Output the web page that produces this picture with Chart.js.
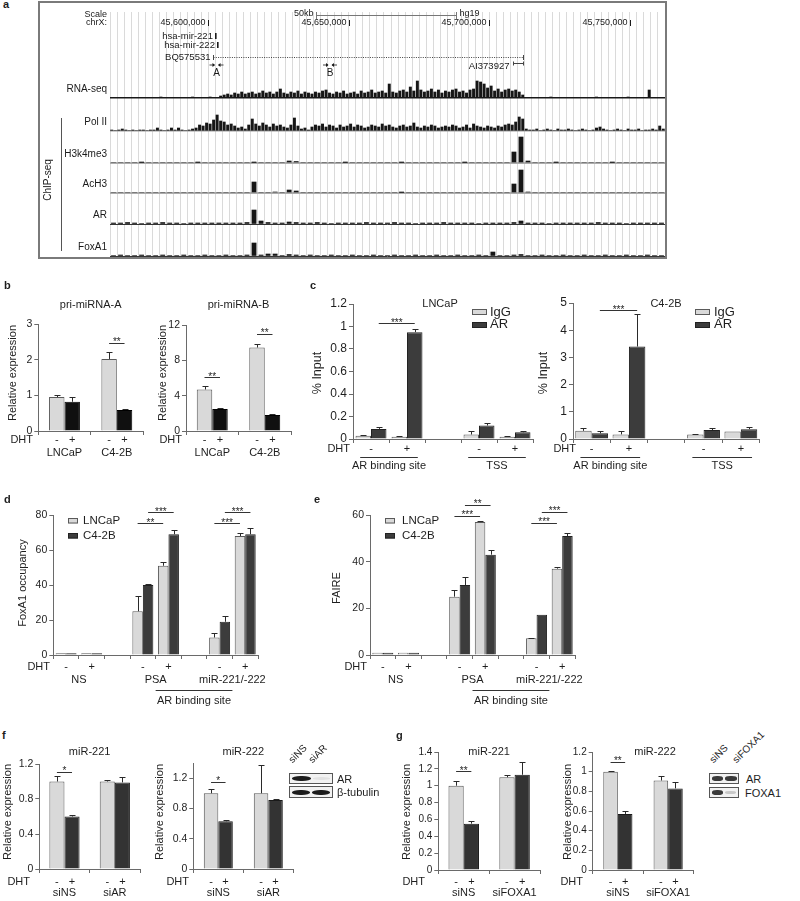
<!DOCTYPE html>
<html>
<head>
<meta charset="utf-8">
<title>AR / FoxA1 regulation of miR-221/-222</title>
<script src="https://cdn.jsdelivr.net/npm/chart.js@4.4.1/dist/chart.umd.min.js"></script>
<style>
  html, body { margin: 0; padding: 0; background: #fff; }
  #fig { position: relative; width: 800px; height: 901px; overflow: hidden;
         font-family: 'Liberation Sans', Arial, Helvetica, sans-serif; color: #1e1e1e; }
  #fig canvas { position: absolute; }
  .txt { position: absolute; white-space: nowrap; line-height: 1; }
  .letter { font-weight: bold; font-size: 11px; }
  .blot { position: absolute; box-sizing: border-box; border: 1px solid #555; background: #f2f2f2; }
  .band { position: absolute; border-radius: 45%; filter: blur(0.6px); }
</style>
</head>
<body>
<div id="fig"></div>
<script>
// ---------- a: browser tracks, chrX (hg19) ----------
// RNA-seq and Pol II: one value per 1.25 kb bin; ChIP tracks: one value per 2.5 kb bin (from viewStart)
const viewStart = 45565000;
const viewEnd = 45762500;
const fineBin = 1250;
const coarseBin = 2500;
const coordTicks = [45600000, 45650000, 45700000, 45750000];
const scaleBar = [45638300, 45688300];
const mirNames = ['hsa-mir-221', 'hsa-mir-222'];
const mirPos = [45602700, 45603400];
const bqSpan = [45601650, 45711975];
const aiSpan = [45708420, 45711975];
const primerNames = ['A', 'B'];
const primerPos = [45602900, 45643290];
const trackNames = ['RNA-seq', 'Pol II', 'H3k4me3', 'AcH3', 'AR', 'FoxA1'];
const trackMax = [26, 33, 32, 30, 31, 32];

const rnaSeq = [
  0, 0, 0, 0, 0, 0, 0, 0, 0, 0,
  0, 0, 0, 0, 1, 0, 0, 0, 0, 0,
  0, 0, 0, 1, 0, 0, 0, 0, 1, 0,
  0, 2, 3, 4, 3, 5, 4, 6, 4, 5,
  6, 4, 5, 7, 5, 6, 4, 6, 9, 5,
  4, 6, 5, 7, 4, 6, 5, 4, 6, 5,
  7, 8, 5, 4, 6, 5, 7, 4, 5, 6,
  4, 7, 5, 6, 8, 5, 6, 7, 5, 14,
  6, 5, 7, 8, 6, 11, 7, 17, 8, 6,
  7, 9, 6, 8, 5, 7, 6, 8, 9, 6,
  7, 5, 8, 9, 17, 16, 14, 10, 12, 7,
  9, 6, 8, 9, 7, 8, 6, 3, 0, 0,
  0, 0, 0, 0, 0, 1, 0, 0, 0, 0,
  0, 0, 0, 0, 0, 0, 0, 0, 1, 0,
  0, 0, 0, 0, 0, 0, 0, 1, 0, 0,
  0, 0, 0, 8, 0, 0, 0, 0
];
const polII = [
  1, 0, 1, 2, 1, 0, 1, 0, 1, 1,
  0, 1, 1, 3, 1, 0, 1, 3, 1, 3,
  1, 0, 1, 2, 3, 6, 5, 8, 7, 11,
  16, 10, 9, 6, 7, 5, 3, 4, 2, 6,
  12, 7, 5, 8, 6, 4, 7, 5, 6, 4,
  3, 6, 13, 5, 2, 3, 1, 4, 6, 5,
  7, 4, 6, 5, 3, 6, 4, 5, 7, 4,
  6, 5, 3, 4, 6, 5, 4, 7, 5, 6,
  4, 3, 5, 6, 4, 5, 8, 4, 3, 5,
  4, 6, 5, 3, 4, 5, 4, 6, 5, 3,
  4, 6, 3, 7, 5, 4, 3, 5, 4, 3,
  5, 4, 6, 7, 6, 9, 14, 12, 2, 1,
  1, 2, 0, 1, 2, 1, 0, 2, 1, 1,
  2, 1, 0, 1, 2, 1, 0, 1, 3, 4,
  2, 1, 0, 1, 2, 1, 0, 2, 1, 1,
  2, 0, 1, 1, 2, 1, 5, 2
];
const h3k4me3 = [
  0, 0, 0, 0, 0.5, 0, 0, 0, 0, 0,
  0, 0, 0.5, 0, 0, 0, 0, 0, 0, 0,
  0.5, 0, 0, 0, 0, 2, 1.5, 0, 0, 0,
  0, 0, 0, 0.5, 0, 0, 0, 0, 0, 0,
  0, 0.5, 0, 0, 0, 0, 0, 0, 0, 0,
  0.5, 0, 0, 0, 0, 0, 0, 11, 26, 2,
  0, 0, 0, 0.5, 0, 0, 0, 0, 0, 0,
  0, 0.5, 0, 0, 0, 0, 0, 0, 0
];
const acH3 = [
  0, 0, 0, 0, 0, 0, 0, 0, 0, 0,
  0, 0, 0, 0, 0, 0, 0, 0, 0, 0,
  11, 0, 0, 1, 0, 3, 2, 0, 0, 0,
  0, 0, 0, 0, 0, 0, 0, 0, 0, 0,
  0, 0.5, 0, 0, 0, 0, 0, 0, 0, 0,
  0, 0, 0, 0, 0, 0, 0, 9, 23, 1,
  0, 0, 0, 0, 0, 0, 0, 0, 0, 0,
  0, 0, 0, 0, 0, 0, 0, 0, 0
];
const arChip = [
  1, 1, 1.5, 1, 0.5, 1, 1, 1.5, 1, 1,
  0.5, 1, 1, 1, 1, 1, 1, 1, 1, 1.5,
  14, 3, 1.5, 1, 1, 2, 1.5, 1, 1, 1.5,
  1, 0.5, 1, 1, 1, 1, 1.5, 1, 1, 1,
  1.5, 1, 1, 0.5, 1, 1, 1, 1.5, 1, 1,
  1, 1, 0.5, 1, 1, 1, 1, 1.5, 3, 1,
  1, 1, 0.5, 1, 1, 1, 1, 1, 1, 1.5,
  1, 1, 1, 0.5, 1, 1, 1, 1, 1
];
const foxa1Chip = [
  0.5, 1, 0.5, 0.5, 1, 0.5, 0.5, 1, 0.5, 0.5,
  1, 0.5, 0.5, 1, 0.5, 0.5, 1, 0.5, 0.5, 1,
  13, 1, 2, 2, 0.5, 1.5, 1, 0.5, 1, 0.5,
  0.5, 1, 0.5, 0.5, 1, 0.5, 0.5, 1, 0.5, 0.5,
  1, 0.5, 0.5, 1, 0.5, 0.5, 1, 0.5, 0.5, 1,
  0.5, 0.5, 1, 0.5, 4, 0.5, 0.5, 1, 1.5, 0.5,
  0.5, 1, 0.5, 0.5, 1, 0.5, 0.5, 1, 0.5, 0.5,
  1, 0.5, 0.5, 1, 0.5, 0.5, 1, 0.5, 0.5
];

// ---------- b: pri-miRNA qPCR ----------
const cellLines = ['LNCaP', 'C4-2B'];
const dhtSigns = ['-', '+'];
const priA_veh = [0.95, 2.02];
const priA_vehErr = [0.05, 0.2];
const priA_dht = [0.82, 0.59];
const priA_dhtErr = [0.12, 0.03];
const priB_veh = [4.7, 9.45];
const priB_vehErr = [0.4, 0.35];
const priB_dht = [2.5, 1.8];
const priB_dhtErr = [0.12, 0.12];
const priA_ticks = [0, 1, 2, 3];
const priB_ticks = [0, 4, 8, 12];

// ---------- c: AR ChIP (% input) ----------
const chipCats = ['ARBS -DHT', 'ARBS +DHT', '', 'TSS -DHT', 'TSS +DHT'];
const chipSigns = ['-', '+', '', '-', '+'];
const lnIgG = [0.03, 0.02, null, 0.04, 0.02];
const lnIgGErr = [0.005, 0.005, null, 0.03, 0.005];
const lnAR = [0.09, 0.95, null, 0.12, 0.06];
const lnARErr = [0.02, 0.025, null, 0.025, 0.01];
const c42IgG = [0.3, 0.17, null, 0.17, 0.28];
const c42IgGErr = [0.1, 0.11, null, 0.03, 0];
const c42AR = [0.21, 3.4, null, 0.33, 0.36];
const c42ARErr = [0.1, 1.2, null, 0.07, 0.08];
const lnChipTicks = [0, 0.2, 0.4, 0.6, 0.8, 1, 1.2];
const c42ChipTicks = [0, 1, 2, 3, 4, 5];

// ---------- d / e: FoxA1 occupancy and FAIRE ----------
const siteCats = ['NS -DHT', 'NS +DHT', '', 'PSA -DHT', 'PSA +DHT', '', 'miR -DHT', 'miR +DHT'];
const siteSigns = ['-', '+', '', '-', '+', '', '-', '+'];
const foxLN = [1, 1, null, 25, 51, null, 10, 68];
const foxLNErr = [0, 0, null, 9, 2.3, null, 2.3, 1.9];
const foxC42 = [1, 1, null, 40, 69, null, 19, 69];
const foxC42Err = [0, 0, null, 0.5, 2.5, null, 3.5, 3.8];
const faireLN = [1, 1, null, 25, 57, null, 7.2, 37];
const faireLNErr = [0, 0, null, 3, 0.3, null, 0.3, 0.7];
const faireC42 = [1, 1, null, 30, 43, null, 17.2, 51];
const faireC42Err = [0, 0, null, 3.5, 2, null, 0, 1.3];
const foxTicks = [0, 20, 40, 60, 80];
const faireTicks = [0, 20, 40, 60];

// ---------- f / g: mature miRNA after siAR / siFOXA1 ----------
const siARCats = ['siNS', 'siAR'];
const siFoxCats = ['siNS', 'siFOXA1'];
const f221_veh = [1.0, 1.0];
const f221_vehErr = [0.065, 0.02];
const f221_dht = [0.6, 0.99];
const f221_dhtErr = [0.015, 0.06];
const f222_veh = [1.0, 1.0];
const f222_vehErr = [0.06, 0.38];
const f222_dht = [0.63, 0.91];
const f222_dhtErr = [0.012, 0.01];
const g221_veh = [1.0, 1.1];
const g221_vehErr = [0.05, 0.03];
const g221_dht = [0.55, 1.13];
const g221_dhtErr = [0.03, 0.15];
const g222_veh = [1.0, 0.91];
const g222_vehErr = [0.01, 0.05];
const g222_dht = [0.57, 0.83];
const g222_dhtErr = [0.03, 0.06];
const f221Ticks = [0, 0.4, 0.8, 1.2];
const f222Ticks = [0, 0.4, 0.8, 1.2];
const g221Ticks = [0, 0.2, 0.4, 0.6, 0.8, 1, 1.2, 1.4];
const g222Ticks = [0, 0.2, 0.4, 0.6, 0.8, 1, 1.2];

// ---------- drawing ----------
const FONT = "'Liberation Sans', Arial, Helvetica, sans-serif";
const INK = '#1e1e1e';
const LIGHT = '#d9d9d9', LIGHT_EDGE = '#5a5a5a';
const BLACK = '#101010', DARK = '#3c3c3c', DARK2 = '#333333';

Chart.defaults.font.family = FONT;
Chart.defaults.color = INK;
Chart.defaults.animation = false;

const fig = document.getElementById('fig');

function addCanvas(box) {
  const cv = document.createElement('canvas');
  cv.width = box[2];
  cv.height = box[3];
  cv.style.left = box[0] + 'px';
  cv.style.top = box[1] + 'px';
  fig.appendChild(cv);
  return cv;
}

function addText(text, x, y, css, cls) {
  const d = document.createElement('div');
  d.className = 'txt' + (cls ? ' ' + cls : '');
  d.textContent = text;
  d.style.left = x + 'px';
  d.style.top = y + 'px';
  if (css) d.style.cssText += css;
  fig.appendChild(d);
  return d;
}

function addDiv(cls, x, y, w, h, css) {
  const d = document.createElement('div');
  d.className = cls;
  d.style.cssText = `left:${x}px;top:${y}px;width:${w}px;height:${h}px;` + (css || '');
  fig.appendChild(d);
  return d;
}

// error bars (upper side only, as in the figure)
const errorBars = {
  id: 'errorBars',
  afterDatasetsDraw(chart) {
    const {ctx} = chart;
    const y = chart.scales.y;
    ctx.save();
    ctx.strokeStyle = '#2a2a2a';
    ctx.lineWidth = 1;
    chart.data.datasets.forEach((ds, di) => {
      chart.getDatasetMeta(di).data.forEach((bar, i) => {
        const v = ds.data[i];
        const e = ds.errors ? ds.errors[i] : 0;
        if (v == null || !e) return;
        const bx = Math.round(bar.x) + 0.5;
        const top = Math.round(y.getPixelForValue(v + e)) + 0.5;
        ctx.beginPath();
        ctx.moveTo(bx, bar.y);
        ctx.lineTo(bx, top);
        ctx.moveTo(bx - 3, top);
        ctx.lineTo(bx + 3, top);
        ctx.stroke();
      });
    });
    ctx.restore();
  }
};

// titles, axis title, DHT row, group labels, legend, significance
function makeDecor(o) {
  return {
    id: 'decor',
    afterDraw(chart) {
      const {ctx, chartArea} = chart;
      const xs = chart.scales.x, ys = chart.scales.y;
      const cx = o.box[0], cy = o.box[1];
      const catX = c => xs.getPixelForValue(c);
      const catW = catX(1) - catX(0);
      const barX = (d, c) => chart.getDatasetMeta(d).data[c].x;
      const setFont = size => { ctx.font = size + 'px ' + FONT; };
      const hline = (xa, xb, y) => {
        const yy = Math.round(y) + 0.5;
        ctx.beginPath();
        ctx.moveTo(xa, yy);
        ctx.lineTo(xb, yy);
        ctx.stroke();
      };
      ctx.save();
      ctx.fillStyle = INK;
      ctx.strokeStyle = '#333';
      ctx.lineWidth = 1;

      setFont(o.starSize || 10);
      ctx.textAlign = 'center';
      ctx.textBaseline = 'alphabetic';
      (o.brackets || []).forEach(b => {
        const xa = barX(b.from[0], b.from[1]);
        const xb = barX(b.to[0], b.to[1]);
        const yy = ys.getPixelForValue(b.level);
        hline(xa, xb, yy);
        ctx.fillText(b.stars, (xa + xb) / 2, yy + 2.5);
      });

      ctx.textBaseline = 'middle';
      setFont(o.fs);
      if (o.title) {
        const tx = o.title.x != null ? o.title.x - cx : (chartArea.left + chartArea.right) / 2;
        ctx.fillText(o.title.text, tx, o.title.y - cy);
      }
      if (o.yTitle) {
        ctx.save();
        setFont(o.yTitleSize || o.fs);
        ctx.translate(o.yTitle.x - cx, o.yTitle.y - cy);
        ctx.rotate(-Math.PI / 2);
        ctx.fillText(o.yTitle.text, 0, 0);
        ctx.restore();
      }
      // DHT row
      const sy = o.signY - cy;
      ctx.textAlign = 'right';
      ctx.fillText('DHT', o.dhtX - cx, sy);
      ctx.textAlign = 'center';
      if (o.signMode === 'bar') {
        chart.data.datasets.forEach((ds, di) => {
          chart.getDatasetMeta(di).data.forEach((bar, i) => {
            if (ds.data[i] != null) ctx.fillText(o.signs[di], bar.x, sy);
          });
        });
      } else {
        o.signs.forEach((s, ci) => { if (s) ctx.fillText(s, catX(ci), sy); });
      }
      (o.groups || []).forEach(g => {
        const xa = catX(g.from), xb = catX(g.to);
        const ext = (g.ext || 0) * catW;
        if (g.line != null) hline(xa - ext, xb + ext, g.line - cy);
        ctx.fillText(g.text, (xa + xb) / 2, g.y - cy);
      });
      // legend
      if (o.legend) {
        const L = o.legend;
        setFont(L.size);
        ctx.textAlign = 'left';
        chart.data.datasets.forEach((ds, i) => {
          const ly = L.ys[i] - cy;
          ctx.fillStyle = ds.backgroundColor;
          ctx.fillRect(L.x - cx, Math.round(ly - L.h / 2), L.w, L.h);
          ctx.strokeStyle = ds.borderColor;
          ctx.strokeRect(L.x - cx + 0.5, Math.round(ly - L.h / 2) + 0.5, L.w - 1, L.h - 1);
          ctx.fillStyle = INK;
          ctx.fillText(ds.label, L.textX - cx, ly);
        });
      }
      ctx.restore();
    }
  };
}

function barPanel(o) {
  const [cx, cy, cw, ch] = o.box;
  const [x0, x1, yTop, yBot] = o.plot;
  const axisColor = '#6a6a6a';
  const ticks = o.yTicks;
  return new Chart(addCanvas(o.box), {
    type: 'bar',
    data: {
      labels: o.cats,
      datasets: o.sets.map(s => ({
        label: s.label,
        data: s.data,
        errors: s.err,
        backgroundColor: s.fill,
        borderColor: s.edge,
        borderWidth: 1,
        barPercentage: 1,
        categoryPercentage: o.catPct
      }))
    },
    options: {
      responsive: false,
      animation: false,
      events: [],
      layout: {padding: {left: 0, top: yTop - cy, right: cx + cw - x1, bottom: cy + ch - yBot}},
      plugins: {legend: {display: false}, tooltip: {enabled: false}},
      scales: {
        x: {
          ticks: {display: false},
          grid: {drawOnChartArea: false, tickLength: 4, color: axisColor},
          border: {color: axisColor},
          afterFit: s => { s.height = 0; }
        },
        y: {
          min: ticks[0],
          max: o.yMax != null ? o.yMax : ticks[ticks.length - 1],
          afterBuildTicks: s => { s.ticks = ticks.map(v => ({value: v})); },
          ticks: {padding: 2, color: INK, font: {size: o.tick}, callback: v => String(+Number(v).toFixed(2))},
          grid: {drawOnChartArea: false, tickLength: 4, color: axisColor},
          border: {color: axisColor},
          afterFit: s => { s.width = x0 - cx; }
        }
      }
    },
    plugins: [errorBars, makeDecor(o)]
  });
}

// ----- panel a -----
function genomeDecor(box) {
  const ox = box[0], oy = box[1];
  return {
    id: 'genomeDecor',
    afterDraw(chart) {
      const {ctx} = chart;
      const xs = chart.scales.x;
      const X = g => xs.getPixelForValue(g);
      const px = v => v - ox, py = v => v - oy;
      const seg = (a, b, c, d) => { ctx.beginPath(); ctx.moveTo(a, b); ctx.lineTo(c, d); ctx.stroke(); };
      ctx.save();
      ctx.fillStyle = '#1a1a1a';
      ctx.strokeStyle = '#1a1a1a';
      ctx.lineWidth = 1;
      ctx.textBaseline = 'middle';
      ctx.font = '9px ' + FONT;
      ctx.textAlign = 'right';
      ctx.fillText('Scale', px(107), py(15));
      ctx.fillText('chrX:', px(107), py(23));
      coordTicks.forEach(g => {
        const x = Math.round(X(g)) + 0.5;
        ctx.fillText(g.toLocaleString('en-US'), x - 3, py(23));
        seg(x, py(20), x, py(26));
      });
      // scale bar
      const s1 = Math.round(X(scaleBar[0])) + 0.5, s2 = Math.round(X(scaleBar[1])) + 0.5;
      ctx.strokeStyle = '#777';
      seg(s1, py(15.5), s2, py(15.5));
      seg(s1, py(12), s1, py(19));
      seg(s2, py(12), s2, py(19));
      ctx.fillText('50kb', s1 - 3, py(14));
      ctx.textAlign = 'left';
      ctx.fillText('hg19', s2 + 3, py(14));
      // miRNA genes
      ctx.strokeStyle = '#1a1a1a';
      ctx.textAlign = 'right';
      ctx.font = '9.5px ' + FONT;
      mirNames.forEach((n, i) => {
        const x = X(mirPos[i]);
        ctx.fillText(n, x - 3, py(36 + 9 * i));
        ctx.fillRect(Math.round(x) - 1, py(33 + 9 * i), 1.6, 6);
      });
      // BQ575531 transcript
      const b1 = Math.round(X(bqSpan[0])) + 0.5, b2 = Math.round(X(bqSpan[1])) + 0.5;
      ctx.fillText('BQ575531', b1 - 3, py(57));
      ctx.strokeStyle = '#444';
      ctx.setLineDash([1, 1.3]);
      seg(b1, py(57.5), b2, py(57.5));
      ctx.setLineDash([]);
      seg(b1, py(55), b1, py(60));
      seg(b2, py(55), b2, py(60));
      // AI373927
      const a1 = Math.round(X(aiSpan[0])) + 0.5, a2 = Math.round(X(aiSpan[1])) + 0.5;
      ctx.fillText('AI373927', a1 - 4, py(66));
      seg(a1, py(63.5), a2, py(63.5));
      seg(a1, py(61.5), a1, py(65.5));
      seg(a2, py(61.5), a2, py(65.5));
      // primer pairs
      ctx.textAlign = 'center';
      ctx.font = '10px ' + FONT;
      primerNames.forEach((n, i) => {
        const x = X(primerPos[i]);
        const y = py(65);
        seg(x - 7, y, x - 2, y);
        seg(x + 2, y, x + 7, y);
        ctx.beginPath();
        ctx.moveTo(x - 1.5, y); ctx.lineTo(x - 4, y - 2); ctx.lineTo(x - 4, y + 2); ctx.closePath();
        ctx.moveTo(x + 1.5, y); ctx.lineTo(x + 4, y - 2); ctx.lineTo(x + 4, y + 2); ctx.closePath();
        ctx.fill();
        ctx.fillText(n, x, py(73.5));
      });
      // track labels
      ctx.textAlign = 'right';
      ctx.font = '10px ' + FONT;
      trackNames.forEach((n, i) => {
        ctx.fillText(n, px(107), chart.scales['t' + i].bottom - 9);
      });
      // ChIP-seq bracket
      ctx.strokeStyle = '#555';
      seg(px(61) + 0.5, py(118), px(61) + 0.5, py(251));
      ctx.save();
      ctx.translate(px(48.5), py(180));
      ctx.rotate(-Math.PI / 2);
      ctx.textAlign = 'center';
      ctx.fillText('ChIP-seq', 0, 0);
      ctx.restore();
      // frame
      ctx.strokeStyle = '#7a7a7a';
      ctx.lineWidth = 2;
      ctx.strokeRect(1, 1, chart.width - 2, chart.height - 2);
      ctx.restore();
    }
  };
}

function genomePanel() {
  const box = [38, 1, 629, 258];
  const headerHeight = 60;
  const bandHeights = [26, 33, 32, 30, 31, 32];
  const baseLine = [['#1b1b1b', 1.5], ['#9c9c9c', 1.5], ['#acacac', 2], ['#acacac', 2], ['#333', 1], ['#333', 1]];
  const tracks = [rnaSeq, polII, h3k4me3, acH3, arChip, foxa1Chip];
  const bins = [fineBin, fineBin, coarseBin, coarseBin, coarseBin, coarseBin];
  const thickness = [2.3, 2.3, 4.2, 4.2, 4.2, 4.2];
  const scales = {
    x: {
      type: 'linear', min: viewStart, max: viewEnd, offset: false,
      ticks: {display: false, stepSize: coarseBin},
      grid: {offset: false, drawTicks: false, color: '#dadada'},
      border: {display: false}
    },
    hdr: {
      type: 'linear', position: 'left', stack: 'tracks', stackWeight: headerHeight, weight: 10,
      min: 0, max: 1,
      ticks: {display: false}, grid: {display: false, drawTicks: false}, border: {display: false}
    }
  };
  tracks.forEach((t, i) => {
    scales['t' + i] = {
      type: 'linear', position: 'left', stack: 'tracks', stackWeight: bandHeights[i], weight: 9 - i,
      min: 0, max: trackMax[i],
      afterBuildTicks: s => { s.ticks = [{value: 0}]; },
      ticks: {display: false},
      grid: {drawTicks: false, color: baseLine[i][0], lineWidth: baseLine[i][1]},
      border: {display: false}
    };
  });
  new Chart(addCanvas(box), {
    type: 'bar',
    data: {
      datasets: tracks.map((t, i) => ({
        label: trackNames[i],
        xAxisID: 'x',
        yAxisID: 't' + i,
        data: t.map((v, j) => ({x: viewStart + bins[i] * (j + 0.5), y: v})),
        backgroundColor: '#161616',
        borderWidth: 0,
        grouped: false,
        barThickness: thickness[i]
      }))
    },
    options: {
      responsive: false,
      animation: false,
      events: [],
      layout: {padding: {left: 72, top: 11, right: 2, bottom: 3}},
      plugins: {legend: {display: false}, tooltip: {enabled: false}},
      scales
    },
    plugins: [genomeDecor(box)]
  });
}

genomePanel();

// ----- panel b -----
const cellGroups = y => cellLines.map((c, i) => ({text: c, from: i, to: i, y}));
barPanel({
  box: [0, 290, 150, 175], plot: [38.3, 143, 324, 431],
  cats: cellLines, catPct: 0.59, yTicks: priA_ticks, tick: 10.5, fs: 11,
  sets: [
    {label: '-DHT', data: priA_veh, err: priA_vehErr, fill: LIGHT, edge: LIGHT_EDGE},
    {label: '+DHT', data: priA_dht, err: priA_dhtErr, fill: BLACK, edge: '#000'}
  ],
  title: {text: 'pri-miRNA-A', y: 305},
  yTitle: {text: 'Relative expression', x: 13, y: 373},
  dhtX: 33, signY: 440, signMode: 'bar', signs: dhtSigns,
  groups: cellGroups(453),
  brackets: [{from: [0, 1], to: [1, 1], level: 2.48, stars: '**'}]
});
barPanel({
  box: [148, 290, 155, 175], plot: [186, 291, 325, 431],
  cats: cellLines, catPct: 0.59, yTicks: priB_ticks, tick: 10.5, fs: 11,
  sets: [
    {label: '-DHT', data: priB_veh, err: priB_vehErr, fill: LIGHT, edge: LIGHT_EDGE},
    {label: '+DHT', data: priB_dht, err: priB_dhtErr, fill: BLACK, edge: '#000'}
  ],
  title: {text: 'pri-miRNA-B', y: 305},
  yTitle: {text: 'Relative expression', x: 163, y: 373},
  dhtX: 182, signY: 440, signMode: 'bar', signs: dhtSigns,
  groups: cellGroups(453),
  brackets: [
    {from: [0, 0], to: [1, 0], level: 6.1, stars: '**'},
    {from: [0, 1], to: [1, 1], level: 11, stars: '**'}
  ]
});

// ----- panel c -----
const chipGroups = [
  {text: 'AR binding site', from: 0, to: 1, y: 466, line: 457, ext: 0.3},
  {text: 'TSS', from: 3, to: 4, y: 466, line: 457, ext: 0.3}
];
barPanel({
  box: [305, 290, 240, 185], plot: [353, 533, 304, 439],
  cats: chipCats, catPct: 0.86, yTicks: lnChipTicks, tick: 12, fs: 11, yTitleSize: 12.5,
  sets: [
    {label: 'IgG', data: lnIgG, err: lnIgGErr, fill: LIGHT, edge: LIGHT_EDGE},
    {label: 'AR', data: lnAR, err: lnARErr, fill: DARK, edge: '#222'}
  ],
  title: {text: 'LNCaP', x: 440, y: 304},
  yTitle: {text: '% Input', x: 318, y: 373},
  dhtX: 350, signY: 449, signMode: 'cat', signs: chipSigns,
  groups: chipGroups,
  legend: {x: 472, ys: [312, 324.5], w: 15, h: 6, textX: 490, size: 13},
  brackets: [{from: [1, 0], to: [1, 1], level: 1.03, stars: '***'}]
});
barPanel({
  box: [536, 290, 264, 185], plot: [573, 759.5, 303, 439],
  cats: chipCats, catPct: 0.88, yTicks: c42ChipTicks, tick: 12, fs: 11, yTitleSize: 12.5,
  sets: [
    {label: 'IgG', data: c42IgG, err: c42IgGErr, fill: LIGHT, edge: LIGHT_EDGE},
    {label: 'AR', data: c42AR, err: c42ARErr, fill: DARK, edge: '#222'}
  ],
  title: {text: 'C4-2B', x: 666, y: 304},
  yTitle: {text: '% Input', x: 544, y: 373},
  dhtX: 576, signY: 449, signMode: 'cat', signs: chipSigns,
  groups: chipGroups,
  legend: {x: 695, ys: [312, 324.5], w: 15, h: 6, textX: 714, size: 13},
  brackets: [{from: [1, 0], to: [1, 1], level: 4.74, stars: '***'}]
});

// ----- panels d, e -----
const siteGroups = [
  {text: 'NS', from: 0, to: 1, y: 680},
  {text: 'PSA', from: 3, to: 4, y: 680},
  {text: 'miR-221/-222', from: 6, to: 7, y: 680},
  {text: 'AR binding site', from: 3.5, to: 6.5, y: 701, line: 690}
];
barPanel({
  box: [0, 495, 312, 215], plot: [53.3, 258, 515, 655],
  cats: siteCats, catPct: 0.82, yTicks: foxTicks, tick: 10.5, fs: 11,
  sets: [
    {label: 'LNCaP', data: foxLN, err: foxLNErr, fill: LIGHT, edge: LIGHT_EDGE},
    {label: 'C4-2B', data: foxC42, err: foxC42Err, fill: DARK, edge: '#222'}
  ],
  yTitle: {text: 'FoxA1 occupancy', x: 23, y: 583},
  dhtX: 50, signY: 667, signMode: 'cat', signs: siteSigns,
  groups: siteGroups,
  legend: {x: 68, ys: [521, 536], w: 10, h: 5.5, textX: 83, size: 11.5},
  brackets: [
    {from: [0, 3], to: [0, 4], level: 75.4, stars: '**'},
    {from: [1, 3], to: [1, 4], level: 81.7, stars: '***'},
    {from: [0, 6], to: [0, 7], level: 75.4, stars: '***'},
    {from: [1, 6], to: [1, 7], level: 81.7, stars: '***'}
  ]
});
barPanel({
  box: [318, 495, 290, 215], plot: [370, 575, 515, 655],
  cats: siteCats, catPct: 0.82, yTicks: faireTicks, tick: 10.5, fs: 11,
  sets: [
    {label: 'LNCaP', data: faireLN, err: faireLNErr, fill: LIGHT, edge: LIGHT_EDGE},
    {label: 'C4-2B', data: faireC42, err: faireC42Err, fill: DARK, edge: '#222'}
  ],
  yTitle: {text: 'FAIRE', x: 337, y: 588},
  dhtX: 367, signY: 667, signMode: 'cat', signs: siteSigns,
  groups: siteGroups,
  legend: {x: 385, ys: [521, 536], w: 10, h: 5.5, textX: 402, size: 11.5},
  brackets: [
    {from: [0, 3], to: [0, 4], level: 59.6, stars: '***'},
    {from: [1, 3], to: [1, 4], level: 64.3, stars: '**'},
    {from: [0, 6], to: [0, 7], level: 56.6, stars: '***'},
    {from: [1, 6], to: [1, 7], level: 61.3, stars: '***'}
  ]
});

// ----- panels f, g -----
const siGroups = (cats) => cats.map((c, i) => ({text: c, from: i, to: i, y: 893}));
barPanel({
  box: [0, 742, 150, 159], plot: [39.3, 140, 764, 869],
  cats: siARCats, catPct: 0.6, yTicks: f221Ticks, tick: 10.5, fs: 11,
  sets: [
    {label: '-DHT', data: f221_veh, err: f221_vehErr, fill: LIGHT, edge: LIGHT_EDGE},
    {label: '+DHT', data: f221_dht, err: f221_dhtErr, fill: DARK2, edge: '#1a1a1a'}
  ],
  title: {text: 'miR-221', y: 752},
  yTitle: {text: 'Relative expression', x: 8, y: 812},
  dhtX: 30, signY: 882, signMode: 'bar', signs: dhtSigns,
  groups: siGroups(siARCats),
  brackets: [{from: [0, 0], to: [1, 0], level: 1.11, stars: '*'}]
});
barPanel({
  box: [150, 742, 148, 159], plot: [193.3, 293.3, 763, 869],
  cats: siARCats, catPct: 0.58, yTicks: f222Ticks, yMax: 1.4, tick: 10.5, fs: 11,
  sets: [
    {label: '-DHT', data: f222_veh, err: f222_vehErr, fill: LIGHT, edge: LIGHT_EDGE},
    {label: '+DHT', data: f222_dht, err: f222_dhtErr, fill: DARK2, edge: '#1a1a1a'}
  ],
  title: {text: 'miR-222', y: 752},
  yTitle: {text: 'Relative expression', x: 160, y: 812},
  dhtX: 189, signY: 882, signMode: 'bar', signs: dhtSigns,
  groups: siGroups(siARCats),
  brackets: [{from: [0, 0], to: [1, 0], level: 1.15, stars: '*'}]
});
barPanel({
  box: [398, 742, 148, 159], plot: [438.3, 540, 752, 870],
  cats: siFoxCats, catPct: 0.6, yTicks: g221Ticks, tick: 10, fs: 11,
  sets: [
    {label: '-DHT', data: g221_veh, err: g221_vehErr, fill: LIGHT, edge: LIGHT_EDGE},
    {label: '+DHT', data: g221_dht, err: g221_dhtErr, fill: DARK2, edge: '#1a1a1a'}
  ],
  title: {text: 'miR-221', y: 752},
  yTitle: {text: 'Relative expression', x: 407, y: 812},
  dhtX: 425, signY: 882, signMode: 'bar', signs: dhtSigns,
  groups: siGroups(siFoxCats),
  brackets: [{from: [0, 0], to: [1, 0], level: 1.17, stars: '**'}]
});
barPanel({
  box: [548, 742, 150, 159], plot: [592.7, 693.3, 752, 870],
  cats: siFoxCats, catPct: 0.58, yTicks: g222Ticks, tick: 10, fs: 11,
  sets: [
    {label: '-DHT', data: g222_veh, err: g222_vehErr, fill: LIGHT, edge: LIGHT_EDGE},
    {label: '+DHT', data: g222_dht, err: g222_dhtErr, fill: DARK2, edge: '#1a1a1a'}
  ],
  title: {text: 'miR-222', x: 655, y: 752},
  yTitle: {text: 'Relative expression', x: 568, y: 812},
  dhtX: 583, signY: 882, signMode: 'bar', signs: dhtSigns,
  groups: siGroups(siFoxCats),
  brackets: [{from: [0, 0], to: [1, 0], level: 1.1, stars: '**'}]
});

// ----- western blot insets -----
function rotLabel(text, x, yBottom) {
  addText(text, x, yBottom - 10, 'font-size:10px;transform-origin:0 100%;transform:rotate(-45deg);');
}
// f: AR knock-down
addDiv('blot', 289, 773, 44, 11);
addDiv('band', 292, 776, 19, 5, 'background:#1c1c1c;');
addDiv('band', 313, 777, 17, 3, 'background:#e2e2e2;');
addDiv('blot', 289, 786, 44, 12);
addDiv('band', 292, 789.5, 18, 5, 'background:#1c1c1c;');
addDiv('band', 312, 789.5, 18, 5, 'background:#1c1c1c;');
addText('AR', 337, 774, 'font-size:11px;');
addText('β-tubulin', 337, 787, 'font-size:11px;');
rotLabel('siNS', 294, 765);
rotLabel('siAR', 314, 765);
// g: FOXA1 knock-down
addDiv('blot', 709, 773, 30, 11);
addDiv('band', 711.5, 776, 11, 4.5, 'background:#3a3a3a;');
addDiv('band', 725, 776, 11.5, 4.5, 'background:#3a3a3a;');
addDiv('blot', 709, 787, 30, 11);
addDiv('band', 711.5, 790, 11, 4.5, 'background:#3a3a3a;');
addDiv('band', 725, 790.5, 11, 3, 'background:#c8c8c8;');
addText('AR', 746, 774, 'font-size:11px;');
addText('FOXA1', 745, 788, 'font-size:11px;');
rotLabel('siNS', 715, 765);
rotLabel('siFOXA1', 738, 765);

// ----- panel letters -----
[['a', 3, -1], ['b', 4, 280], ['c', 310, 280], ['d', 4, 494], ['e', 314, 494], ['f', 2, 730], ['g', 396, 730]]
  .forEach(([t, x, y]) => addText(t, x, y, '', 'letter'));
</script>
</body>
</html>
